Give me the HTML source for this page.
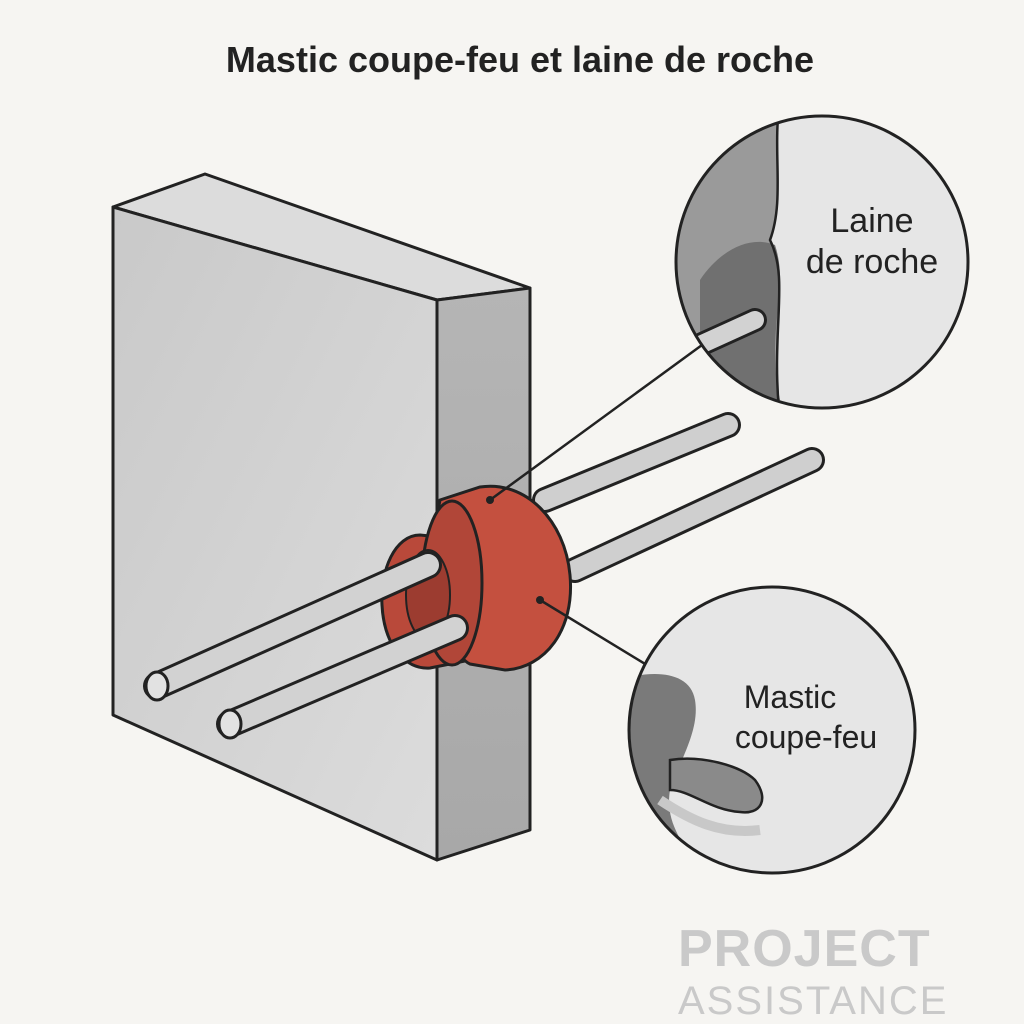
<!DOCTYPE html>
<html><head><meta charset="utf-8"><style>
body{margin:0;background:#f6f5f2;}
svg{display:block}
</style></head><body>
<svg width="1024" height="1024" viewBox="0 0 1024 1024" xmlns="http://www.w3.org/2000/svg" font-family="Liberation Sans, sans-serif">
<defs>
<linearGradient id="front" x1="0" y1="0" x2="1" y2="1"><stop offset="0" stop-color="#c9c9c9"/><stop offset="1" stop-color="#dcdcdc"/></linearGradient>
<linearGradient id="side" x1="0" y1="0" x2="0" y2="1"><stop offset="0" stop-color="#b5b5b5"/><stop offset="1" stop-color="#a8a8a8"/></linearGradient>
<clipPath id="c1"><circle cx="822" cy="262" r="146"/></clipPath>
<clipPath id="c2"><circle cx="772" cy="730" r="143"/></clipPath>
</defs>
<rect width="1024" height="1024" fill="#f6f5f2"/>
<text x="520" y="72" font-size="36" text-anchor="middle" fill="#222" font-weight="bold">Mastic coupe-feu et laine de roche</text>

<!-- wall -->
<polygon points="113,207 205,174 530,288 437,300" fill="#dcdcdc" stroke="#222" stroke-width="3" stroke-linejoin="round"/>
<polygon points="113,207 437,300 437,860 113,715" fill="url(#front)" stroke="#222" stroke-width="3" stroke-linejoin="round"/>
<polygon points="437,300 530,288 530,830 437,860" fill="url(#side)" stroke="#222" stroke-width="3" stroke-linejoin="round"/>

<!-- back pipes -->
<g stroke="#222" stroke-width="3" stroke-linecap="round">
<line x1="545" y1="500" x2="728" y2="425" stroke-width="26"/>
<line x1="545" y1="500" x2="728" y2="425" stroke="#cfcfcf" stroke-width="20"/>
<line x1="575" y1="570" x2="812" y2="460" stroke-width="26"/>
<line x1="575" y1="570" x2="812" y2="460" stroke="#cfcfcf" stroke-width="20"/>
</g>

<!-- collar -->
<path d="M420,535 C395,535 380,570 382,605 C384,645 405,670 430,668 L470,660 L470,540 Z" fill="#b9493a" stroke="#222" stroke-width="3"/>
<path d="M440,500 L480,487 C525,480 565,520 570,575 C575,630 545,668 505,670 L470,664 C440,650 432,540 440,500 Z" fill="#c4503f" stroke="#222" stroke-width="3"/>
<ellipse cx="452" cy="583" rx="30" ry="82" fill="#b14638" stroke="#222" stroke-width="3"/>
<ellipse cx="428" cy="595" rx="22" ry="45" fill="#9c3c30" stroke="#222" stroke-width="2"/>

<!-- front pipes -->
<g stroke-linecap="round">
<line x1="157" y1="686" x2="428" y2="565" stroke="#222" stroke-width="28"/>
<line x1="157" y1="686" x2="428" y2="565" stroke="#d2d2d2" stroke-width="22"/>
<line x1="230" y1="724" x2="455" y2="628" stroke="#222" stroke-width="28"/>
<line x1="230" y1="724" x2="455" y2="628" stroke="#d2d2d2" stroke-width="22"/>
</g>
<ellipse cx="157" cy="686" rx="11" ry="14" fill="#e2e2e2" stroke="#222" stroke-width="3"/>
<ellipse cx="230" cy="724" rx="11" ry="14" fill="#e2e2e2" stroke="#222" stroke-width="3"/>

<!-- leaders -->
<line x1="490" y1="500" x2="702" y2="345" stroke="#222" stroke-width="2.5"/>
<circle cx="490" cy="500" r="4" fill="#222"/>
<line x1="540" y1="600" x2="655" y2="670" stroke="#222" stroke-width="2.5"/>
<circle cx="540" cy="600" r="4" fill="#222"/>

<!-- top circle -->
<circle cx="822" cy="262" r="146" fill="#e6e6e6"/>
<g clip-path="url(#c1)">
<path d="M670,100 L780,100 C772,150 785,200 770,240 C790,280 770,330 780,420 L670,420 Z" fill="#9a9a9a"/>
<path d="M700,280 C720,250 750,235 775,245 C790,290 765,330 780,400 L700,400 Z" fill="#707070"/>
<line x1="700" y1="345" x2="755" y2="320" stroke="#222" stroke-width="24" stroke-linecap="round"/>
<line x1="700" y1="345" x2="755" y2="320" stroke="#d2d2d2" stroke-width="18" stroke-linecap="round"/>
<path d="M780,100 C772,150 785,200 770,240 C790,280 770,330 780,420" fill="none" stroke="#222" stroke-width="2.5"/>
</g>
<circle cx="822" cy="262" r="146" fill="none" stroke="#222" stroke-width="3"/>
<text x="872" y="232" font-size="34" text-anchor="middle" fill="#222" font-weight="500">Laine</text>
<text x="872" y="273" font-size="34" text-anchor="middle" fill="#222" font-weight="500">de roche</text>

<!-- bottom circle -->
<circle cx="772" cy="730" r="143" fill="#e6e6e6"/>
<g clip-path="url(#c2)">
<path d="M620,680 C650,670 690,670 695,700 C700,730 680,760 670,790 C665,820 680,840 700,870 L620,880 Z" fill="#7a7a7a"/>
<path d="M670,760 C700,755 740,765 755,780 C770,800 760,815 740,812 C710,810 690,790 670,790 Z" fill="#8a8a8a" stroke="#222" stroke-width="2.5"/>
<path d="M660,800 C690,820 720,835 760,830" fill="none" stroke="#c8c8c8" stroke-width="10"/>
</g>
<circle cx="772" cy="730" r="143" fill="none" stroke="#222" stroke-width="3"/>
<text x="790" y="708" font-size="32" text-anchor="middle" fill="#222">Mastic</text>
<text x="806" y="748" font-size="32" text-anchor="middle" fill="#222">coupe-feu</text>

<text x="678" y="966" font-size="52" fill="#c9c9c9" font-weight="bold" letter-spacing="1">PROJECT</text>
<text x="678" y="1014" font-size="40" fill="#c9c9c9" letter-spacing="2">ASSISTANCE</text>
</svg>
</body></html>
